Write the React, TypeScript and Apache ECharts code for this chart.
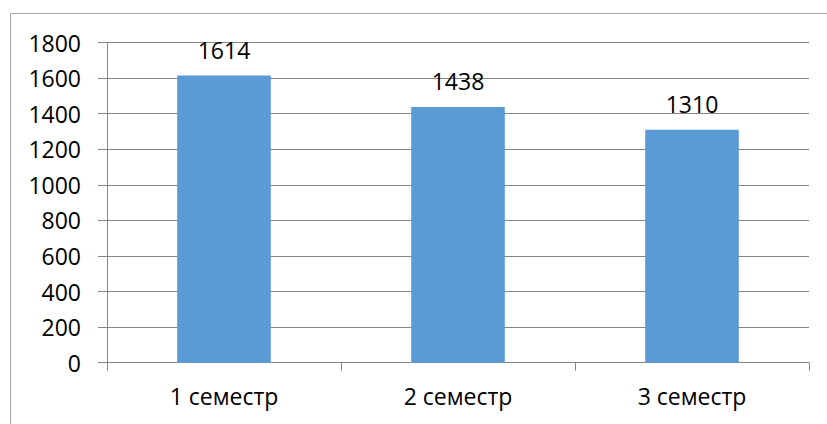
import React, { useEffect, useRef } from "react";
import * as echarts from "echarts";

const categories = ["1 семестр", "2 семестр", "3 семестр"];
const values = [1614, 1438, 1310];
const yTicks = { min: 0, max: 1800, interval: 200 };

export default function App() {
  const ref = useRef<HTMLDivElement>(null);
  useEffect(() => {
    document.body.style.margin = "0";
    const chart = echarts.init(ref.current!, null, { renderer: "svg" });
    const font = "'Open Sans', 'Noto Sans', sans-serif";
    chart.setOption({
      animation: false,
      backgroundColor: "#ffffff",
      textStyle: { fontFamily: font },
      graphic: [
        {
          type: "rect",
          shape: { x: 10.5, y: 13.5, width: 840, height: 440 },
          style: { fill: "none", stroke: "#a6a6a6", lineWidth: 1 },
          silent: true,
        },
      ],
      grid: { left: 107, right: 18, top: 42.5, bottom: 61.3, containLabel: false },
      xAxis: {
        type: "category",
        data: categories,
        axisLine: { show: true, lineStyle: { color: "#868686", width: 1 } },
        axisTick: { show: true, alignWithLabel: false, length: 8, lineStyle: { color: "#868686" } },
        axisLabel: { color: "#000", fontSize: 23, fontFamily: font, margin: 22 },
        splitLine: { show: false },
      },
      yAxis: {
        type: "value",
        min: yTicks.min,
        max: yTicks.max,
        interval: yTicks.interval,
        axisLine: { show: true, lineStyle: { color: "#868686", width: 1 } },
        axisTick: { show: true, length: 9, lineStyle: { color: "#868686" } },
        axisLabel: {
          color: "#000",
          fontSize: 23,
          fontFamily: font,
          margin: 26,
          formatter: (v: number) => String(v),
        },
        splitLine: { show: true, lineStyle: { color: "#868686", width: 1 } },
      },
      series: [
        {
          type: "bar",
          data: values,
          barWidth: "40%",
          itemStyle: { color: "#5B9BD5" },
          label: {
            show: true,
            position: "top",
            distance: 14,
            color: "#000",
            fontSize: 23,
            fontFamily: font,
          },
        },
      ],
    });
    return () => chart.dispose();
  }, []);
  return <div ref={ref} style={{ width: 827, height: 424 }} />;
}
